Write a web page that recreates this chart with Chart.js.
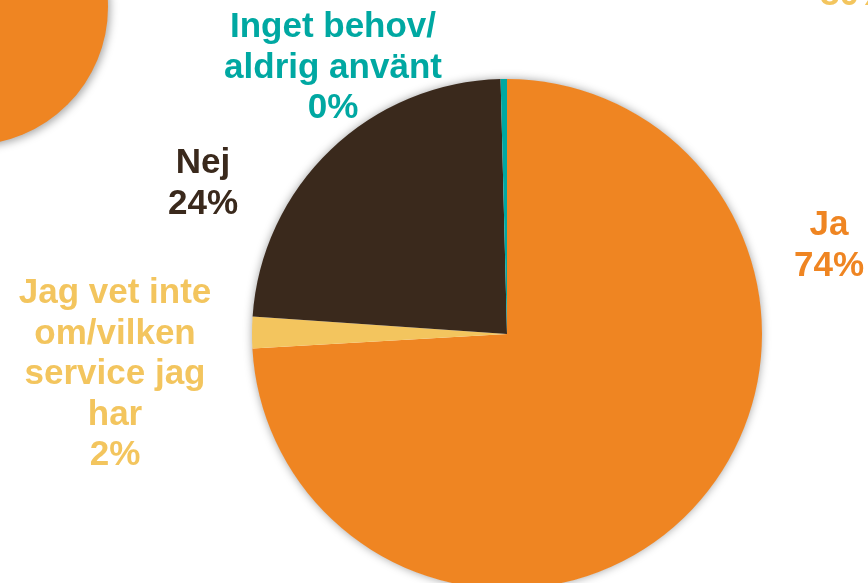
<!DOCTYPE html>
<html>
<head>
<meta charset="utf-8">
<script src="https://cdn.jsdelivr.net/npm/chart.js@4/dist/chart.umd.min.js"></script>
<style>
  html, body { margin: 0; padding: 0; background: #ffffff; width: 868px; height: 583px; overflow: hidden; }
  #wrap { position: absolute; left: 0; top: 0; width: 868px; height: 700px; }
</style>
</head>
<body>
<div id="wrap"><canvas id="c" width="868" height="700"></canvas></div>
<script>
// ---- data ----
const categories = [
  ["Ja"],
  ["Jag vet inte", "om/vilken", "service jag", "har"],
  ["Nej"],
  ["Inget behov/", "aldrig använt"]
];
const values = [74.1, 2.0, 23.5, 0.4];
const percentLabels = ["74%", "2%", "24%", "0%"];
const colors = ["#EF8522", "#F3C55E", "#3A291C", "#00A8A2"];

// ---- layout (not data) ----
const labelLayout = [
  { x: 829, y: 235 },
  { x: 115, y: 303 },
  { x: 203, y: 173 },
  { x: 333, y: 37 }
];
const lineHeight = 40.5;
const labelFont = "bold 35px 'Liberation Sans', Arial, sans-serif";

const decorPlugin = {
  id: 'decor',
  beforeDraw(chart) {
    const ctx = chart.ctx;
    ctx.save();
    ctx.shadowColor = 'rgba(0,0,0,0.35)';
    ctx.shadowBlur = 8;
    ctx.shadowOffsetX = 2;
    ctx.shadowOffsetY = 2;
    ctx.fillStyle = colors[0];
    ctx.beginPath();
    ctx.arc(-30, 7, 138, 0, Math.PI * 2);
    ctx.fill();
    ctx.restore();
    ctx.save();
    ctx.font = labelFont;
    ctx.fillStyle = colors[1];
    ctx.textAlign = 'left';
    ctx.textBaseline = 'alphabetic';
    ctx.fillText('80%', 820, 5);
    ctx.restore();
  },
  beforeDatasetsDraw(chart) {
    const meta = chart.getDatasetMeta(0);
    const arc = meta.data[0];
    if (!arc) return;
    const ctx = chart.ctx;
    ctx.save();
    ctx.shadowColor = 'rgba(0,0,0,0.4)';
    ctx.shadowBlur = 10;
    ctx.fillStyle = '#ffffff';
    ctx.beginPath();
    ctx.arc(arc.x, arc.y, arc.outerRadius - 0.5, 0, Math.PI * 2);
    ctx.fill();
    ctx.restore();
  },
  afterDraw(chart) {
    const ctx = chart.ctx;
    ctx.save();
    ctx.font = labelFont;
    ctx.textAlign = 'center';
    ctx.textBaseline = 'alphabetic';
    categories.forEach((lines, i) => {
      const pos = labelLayout[i];
      const all = lines.concat([percentLabels[i]]);
      ctx.fillStyle = colors[i];
      all.forEach((t, k) => ctx.fillText(t, pos.x, pos.y + k * lineHeight));
    });
    ctx.restore();
  }
};

new Chart(document.getElementById('c'), {
  type: 'pie',
  data: {
    labels: categories.map(l => l.join(' ')),
    datasets: [{
      data: values,
      backgroundColor: colors,
      borderWidth: 0
    }]
  },
  options: {
    responsive: false,
    animation: false,
    rotation: 0,
    layout: { padding: { left: 252, right: 106, top: 79, bottom: 111 } },
    plugins: { legend: { display: false }, tooltip: { enabled: false } }
  },
  plugins: [decorPlugin]
});
</script>
</body>
</html>
